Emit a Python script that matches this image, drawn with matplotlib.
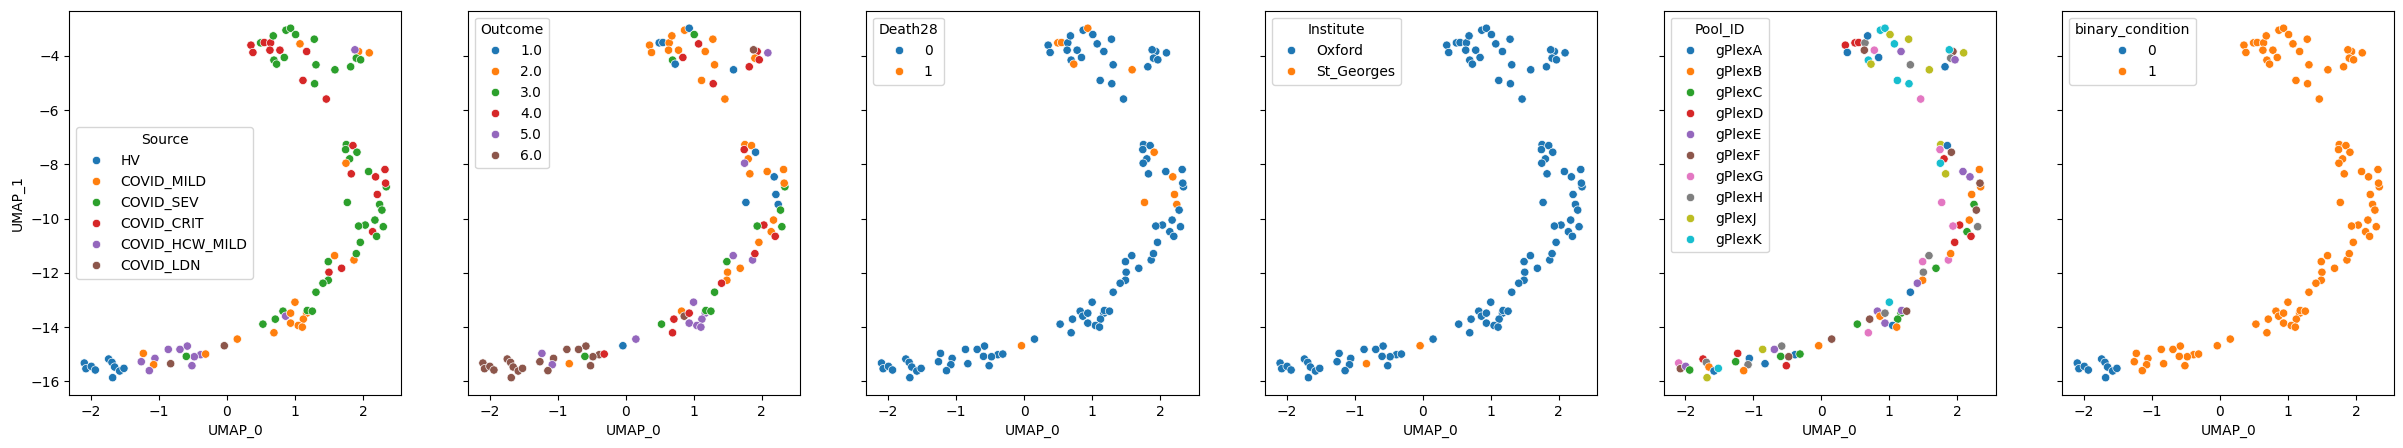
import matplotlib
matplotlib.use("Agg")
import matplotlib.pyplot as plt
import seaborn as sns
import pandas as pd

# ---- data ----
umap_0 = [
    0.353, 0.382, 0.495, 0.549, 0.642, 0.632, 0.681, 0.691, 0.730, 0.779,
    0.843, 0.868, 0.936, 1.010, 1.074, 1.172, 1.118, 1.284, 1.309, 1.289,
    1.461, 1.588, 1.819, 1.936, 1.882, 1.902, 1.966, 2.093,
    1.755, 1.745, 1.853, 1.912, 1.804, 1.750, 1.828, 2.083, 2.324, 2.186,
    2.343, 2.333, 2.211, 1.770, 2.245, 2.279, 2.176, 2.034, 1.936, 2.142,
    2.201, 2.299, 1.961,
    1.583, 1.490, 1.868, 1.902, 1.686, 1.500, 1.490, 1.412, 1.309, 1.000,
    0.824, 0.863, 0.936, 1.172, 1.181, 1.255, 1.123, 0.936, 1.049, 1.108,
    0.711, 0.529, 0.691,
    0.152, -0.039, -0.387, -0.314, -0.480, -0.515, -0.598, -0.583, -0.691, -0.863,
    -0.828, -1.059, -1.078, -1.142, -1.230, -1.260,
    -2.098, -2.074, -1.995, -1.936, -1.740, -1.691, -1.652, -1.578, -1.681, -1.515,
]
umap_1 = [
    -3.608, -3.877, -3.522, -3.510, -3.522, -3.792, -3.265, -4.159, -4.306, -3.792,
    -4.061, -3.056, -2.983, -3.216, -3.559, -3.841, -4.907, -3.387, -4.331, -5.029,
    -5.593, -4.515, -4.404, -3.841, -3.779, -4.086, -4.147, -3.890,
    -7.272, -7.456, -7.309, -7.554, -7.799, -7.958, -8.350, -8.265, -8.191, -8.461,
    -8.828, -8.694, -9.110, -9.404, -9.478, -9.686, -10.054, -10.238, -10.275, -10.483,
    -10.654, -10.299, -10.875,
    -11.365, -11.586, -11.525, -11.292, -11.831, -11.978, -12.272, -12.382, -12.713, -13.081,
    -13.412, -13.596, -13.485, -13.485, -13.387, -13.412, -13.706, -13.853, -13.939, -14.000,
    -13.706, -13.890, -14.208,
    -14.441, -14.686, -15.017, -14.993, -15.091, -15.422, -15.078, -14.699, -14.821, -14.821,
    -15.348, -15.152, -15.385, -15.605, -14.968, -15.275,
    -15.324, -15.532, -15.446, -15.581, -15.176, -15.299, -15.471, -15.618, -15.863, -15.520,
]
source = [
    "COVID_CRIT", "COVID_CRIT", "COVID_SEV", "COVID_CRIT", "COVID_CRIT", "COVID_CRIT", "COVID_SEV", "COVID_SEV", "COVID_SEV", "COVID_CRIT",
    "COVID_SEV", "COVID_SEV", "COVID_SEV", "COVID_SEV", "COVID_MILD", "COVID_CRIT", "COVID_CRIT", "COVID_SEV", "COVID_SEV", "COVID_SEV",
    "COVID_CRIT", "COVID_SEV", "COVID_SEV", "COVID_MILD", "COVID_HCW_MILD", "COVID_SEV", "COVID_SEV", "COVID_MILD",
    "COVID_SEV", "COVID_SEV", "COVID_CRIT", "COVID_SEV", "COVID_SEV", "COVID_MILD", "COVID_CRIT", "COVID_SEV", "COVID_CRIT", "COVID_CRIT",
    "COVID_SEV", "COVID_CRIT", "COVID_CRIT", "COVID_SEV", "COVID_SEV", "COVID_SEV", "COVID_SEV", "COVID_SEV", "COVID_SEV", "COVID_CRIT",
    "COVID_SEV", "COVID_SEV", "COVID_SEV",
    "COVID_MILD", "COVID_SEV", "COVID_MILD", "COVID_SEV", "COVID_CRIT", "COVID_CRIT", "COVID_SEV", "COVID_SEV", "COVID_SEV", "COVID_MILD",
    "COVID_SEV", "COVID_HCW_MILD", "COVID_MILD", "COVID_MILD", "COVID_SEV", "COVID_SEV", "COVID_MILD", "COVID_MILD", "COVID_MILD", "COVID_MILD",
    "COVID_SEV", "COVID_SEV", "COVID_MILD",
    "COVID_MILD", "COVID_LDN", "COVID_HCW_MILD", "COVID_MILD", "COVID_HCW_MILD", "COVID_HCW_MILD", "COVID_SEV", "COVID_HCW_MILD", "COVID_HCW_MILD", "COVID_HCW_MILD",
    "COVID_LDN", "COVID_HCW_MILD", "COVID_MILD", "COVID_HCW_MILD", "COVID_MILD", "COVID_HCW_MILD",
    "HV", "HV", "HV", "HV", "HV", "HV", "HV", "HV", "HV", "HV",
]
outcome = [
    "2.0", "2.0", "1.0", "1.0", "2.0", "2.0", "2.0", "3.0", "1.0", "2.0",
    "4.0", "2.0", "1.0", "3.0", "4.0", "2.0", "2.0", "2.0", "2.0", "4.0",
    "2.0", "1.0", "4.0", "4.0", "6.0", "2.0", "4.0", "5.0",
    "2.0", "4.0", "2.0", "1.0", "2.0", "5.0", "2.0", "2.0", "2.0", "1.0",
    "3.0", "2.0", "1.0", "1.0", "1.0", "3.0", "2.0", "4.0", "3.0", "2.0",
    "4.0", "3.0", "2.0",
    "5.0", "3.0", "5.0", "4.0", "2.0", "2.0", "2.0", "4.0", "3.0", "5.0",
    "2.0", "6.0", "4.0", "5.0", "3.0", "3.0", "5.0", "5.0", "5.0", "5.0",
    "4.0", "3.0", "4.0",
    "5.0", "1.0", "6.0", "4.0", "6.0", "6.0", "3.0", "6.0", "6.0", "6.0",
    "2.0", "6.0", "5.0", "6.0", "5.0", "6.0",
    "6.0", "6.0", "6.0", "6.0", "6.0", "6.0", "6.0", "6.0", "6.0", "6.0",
]
death28 = [
    "0", "0", "1", "1", "0", "0", "0", "0", "1", "0",
    "0", "0", "1", "0", "0", "0", "0", "0", "0", "0",
    "0", "1", "0", "0", "0", "0", "0", "0",
    "0", "0", "0", "1", "0", "0", "0", "0", "0", "1",
    "0", "0", "1", "1", "1", "0", "0", "0", "0", "0",
    "0", "0", "0",
    "0", "0", "0", "0", "0", "0", "0", "0", "0", "0",
    "0", "0", "0", "0", "0", "0", "0", "0", "0", "0",
    "0", "0", "0",
    "0", "1", "0", "0", "0", "0", "0", "0", "0", "0",
    "0", "0", "0", "0", "0", "0",
    "0", "0", "0", "0", "0", "0", "0", "0", "0", "0",
]
institute = ["Oxford"] * 75 + ["St_Georges"] + ["Oxford"] * 8 + ["St_Georges"] + ["Oxford"] * 15
pool_id = [
    "gPlexD", "gPlexA", "gPlexD", "gPlexD", "gPlexH", "gPlexF", "gPlexA", "gPlexK", "gPlexJ", "gPlexG",
    "gPlexA", "gPlexK", "gPlexK", "gPlexJ", "gPlexK", "gPlexE", "gPlexK", "gPlexJ", "gPlexH", "gPlexK",
    "gPlexG", "gPlexJ", "gPlexA", "gPlexF", "gPlexK", "gPlexH", "gPlexE", "gPlexJ",
    "gPlexJ", "gPlexG", "gPlexA", "gPlexF", "gPlexD", "gPlexK", "gPlexJ", "gPlexE", "gPlexB", "gPlexE",
    "gPlexB", "gPlexF", "gPlexB", "gPlexG", "gPlexC", "gPlexF", "gPlexB", "gPlexD", "gPlexG", "gPlexC",
    "gPlexD", "gPlexH", "gPlexD",
    "gPlexH", "gPlexG", "gPlexG", "gPlexB", "gPlexC", "gPlexH", "gPlexB", "gPlexE", "gPlexA", "gPlexK",
    "gPlexE", "gPlexB", "gPlexH", "gPlexC", "gPlexE", "gPlexF", "gPlexC", "gPlexE", "gPlexA", "gPlexB",
    "gPlexF", "gPlexC", "gPlexG",
    "gPlexF", "gPlexB", "gPlexA", "gPlexC", "gPlexF", "gPlexD", "gPlexC", "gPlexH", "gPlexE", "gPlexJ",
    "gPlexA", "gPlexA", "gPlexH", "gPlexB", "gPlexD", "gPlexC",
    "gPlexG", "gPlexF", "gPlexE", "gPlexC", "gPlexD", "gPlexH", "gPlexB", "gPlexA", "gPlexJ", "gPlexK",
]
binary_condition = ["1"] * 90 + ["0"] * 10

source_order = ["HV", "COVID_MILD", "COVID_SEV", "COVID_CRIT", "COVID_HCW_MILD", "COVID_LDN"]
outcome_order = ["1.0", "2.0", "3.0", "4.0", "5.0", "6.0"]
death_order = ["0", "1"]
institute_order = ["Oxford", "St_Georges"]
pool_order = ["gPlexA", "gPlexB", "gPlexC", "gPlexD", "gPlexE", "gPlexF", "gPlexG", "gPlexH", "gPlexJ", "gPlexK"]
binary_order = ["0", "1"]

df = pd.DataFrame({
    "UMAP_0": umap_0, "UMAP_1": umap_1, "Source": source, "Outcome": outcome,
    "Death28": death28, "Institute": institute, "Pool_ID": pool_id,
    "binary_condition": binary_condition,
})

panels = [
    ("Source", source_order, "center left"),
    ("Outcome", outcome_order, "upper left"),
    ("Death28", death_order, "upper left"),
    ("Institute", institute_order, "upper left"),
    ("Pool_ID", pool_order, "upper left"),
    ("binary_condition", binary_order, "upper left"),
]

fig, axes = plt.subplots(1, 6, figsize=(24.03, 4.48), dpi=100, sharey=True)
fig.subplots_adjust(left=0.0288, right=0.9964, top=0.976, bottom=0.118, wspace=0.2)

for i, (ax, (col, order, loc)) in enumerate(zip(axes, panels)):
    sns.scatterplot(data=df, x="UMAP_0", y="UMAP_1", hue=col, hue_order=order,
                    palette=sns.color_palette("tab10", len(order)), ax=ax)
    sns.move_legend(ax, loc)
    if i > 0:
        ax.set_ylabel("")

fig.savefig("out.png", dpi=100)
